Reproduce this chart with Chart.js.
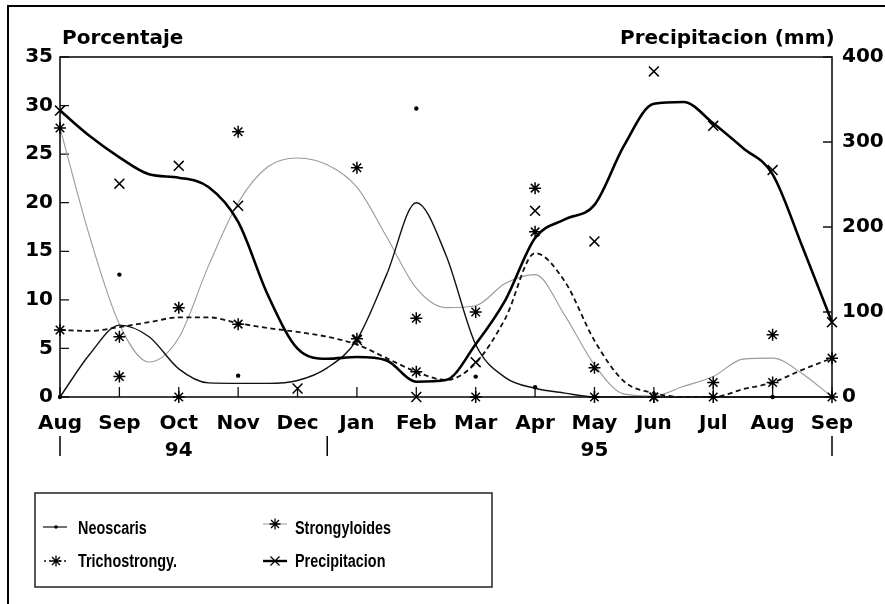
<!DOCTYPE html>
<html><head><meta charset="utf-8">
<script src="https://cdn.jsdelivr.net/npm/chart.js@4.4.1/dist/chart.umd.min.js"></script>
<style>html,body{margin:0;padding:0;background:#fff;}canvas{display:block;}</style>
</head><body>
<canvas id="c" width="885" height="604"></canvas>
<script>
// ---- data ----
const months = ['Aug','Sep','Oct','Nov','Dec','Jan','Feb','Mar','Apr','May','Jun','Jul','Aug','Sep'];
const years = [{label:'94', at:2}, {label:'95', at:9}];
const yearBreaks = [0, 4.5, 13];
const pctMax = 35, pctStep = 5;
const mmMax = 400, mmStep = 100;

// observed values, one per month (Aug 94 .. Sep 95)
const neoscarisObs = [0, 12.6, 0, 2.2, null, null, 29.7, 2.1, 1.0, 0, 0, 0, 0, 0];
const trichoObs    = [6.9, 6.2, 9.2, 7.5, null, 6.0, 2.6, 0, 17.0, 0, 0, 0, 1.5, 4.0];
const strongObs    = [27.7, 2.1, 0, 27.3, null, 23.6, 8.1, 8.75, 21.5, 3.0, 0, 1.5, 6.4, 0];
const precipObs    = [337, 251, 272, 225, 10, 67, 0, 41, 219, 183, 383, 319, 267, 88];

// fitted curves read every half month
const fitStep = 0.5;
const neoscarisFit = [0, 4.4, 7.4, 6.2, 2.9, 1.45, 1.4, 1.4, 1.7, 3.0, 5.9, 12.6, 20.0, 14.6, 5.4, 2.0, 0.9, 0.4, 0, 0, 0, 0, 0, 0, 0, 0, 0];
const strongFit    = [27.7, 16.5, 7.5, 3.6, 6.1, 13.5, 20.0, 23.7, 24.6, 23.9, 21.6, 16.5, 11.2, 9.2, 9.4, 11.7, 12.6, 8.4, 3.3, 0.3, 0.1, 1.1, 2.1, 3.9, 4.0, 2.4, 0];
const trichoFit    = [6.9, 6.8, 7.2, 7.7, 8.2, 8.2, 7.6, 7.1, 6.7, 6.2, 5.4, 4.0, 2.6, 1.75, 3.5, 8.1, 14.8, 11.9, 5.8, 1.6, 0.4, 0, 0, 0.8, 1.5, 2.8, 4.0];
const precipFit    = [337, 307, 282, 262, 258, 247, 206, 120, 57, 45, 47, 43, 18, 20, 62, 114, 187, 209, 226, 296, 345, 347, 322, 293, 262, 177, 88];

const seriesNames = ['Neoscaris', 'Trichostrongy.', 'Strongyloides', 'Precipitacion'];

// ---- helpers ----
const pts = (arr, step) => arr.map((v, i) => ({x: i * step, y: v}));
const TXT = '#000';
const FONT = 'DejaVu Sans';

function curve(data, extra) {
  return Object.assign({data, pointRadius: 0, borderColor: '#111', borderWidth: 1.3,
    cubicInterpolationMode: 'monotone', fill: false, clip: false}, extra);
}
function marks(data, style, radius, extra) {
  return Object.assign({data, showLine: false, pointStyle: style, pointRadius: radius,
    pointBorderColor: '#000', pointBackgroundColor: '#000', pointBorderWidth: 1.5, clip: false}, extra);
}

function drawMark(ctx, type, x, y) {
  ctx.save();
  ctx.strokeStyle = '#000'; ctx.fillStyle = '#000'; ctx.lineWidth = 1.3;
  ctx.beginPath();
  if (type === 'dot') { ctx.arc(x, y, 1.8, 0, Math.PI * 2); ctx.fill(); }
  else if (type === 'x') { ctx.moveTo(x-4.5,y-4.5); ctx.lineTo(x+4.5,y+4.5); ctx.moveTo(x+4.5,y-4.5); ctx.lineTo(x-4.5,y+4.5); ctx.stroke(); }
  else { ctx.moveTo(x,y-5.5); ctx.lineTo(x,y+5.5); ctx.moveTo(x-5.5,y); ctx.lineTo(x+5.5,y);
    ctx.moveTo(x-4,y-4); ctx.lineTo(x+4,y+4); ctx.moveTo(x+4,y-4); ctx.lineTo(x-4,y+4); ctx.stroke(); }
  ctx.restore();
}
function narrowText(ctx, text, x, y) {
  ctx.save(); ctx.translate(x, y); ctx.scale(0.8, 1); ctx.fillText(text, 0, 0); ctx.restore();
}

const decorPlugin = {
  id: 'decor',
  beforeDraw(chart) {
    const {ctx, width, height} = chart;
    ctx.save(); ctx.fillStyle = '#fff'; ctx.fillRect(0, 0, width, height); ctx.restore();
  },
  beforeDatasetsDraw(chart) {
    const {ctx, chartArea: a, scales} = chart;
    ctx.save();
    ctx.strokeStyle = '#111'; ctx.lineWidth = 1.6;
    ctx.strokeRect(a.left, a.top, a.right - a.left, a.bottom - a.top);
    ctx.lineWidth = 1.3; ctx.beginPath();
    scales.y.ticks.forEach(t => { const p = scales.y.getPixelForValue(t.value); ctx.moveTo(a.left, p); ctx.lineTo(a.left + 9, p); });
    scales.y1.ticks.forEach(t => { const p = scales.y1.getPixelForValue(t.value); ctx.moveTo(a.right, p); ctx.lineTo(a.right - 9, p); });
    scales.x.ticks.forEach(t => { const p = scales.x.getPixelForValue(t.value); ctx.moveTo(p, a.bottom); ctx.lineTo(p, a.bottom - 10); });
    ctx.stroke(); ctx.restore();
  },
  afterDraw(chart) {
    const {ctx, chartArea: a, scales} = chart;
    ctx.save();
    // outer frame of the figure
    ctx.strokeStyle = '#000'; ctx.lineWidth = 2;
    ctx.beginPath(); ctx.moveTo(8, 604); ctx.lineTo(8, 6); ctx.lineTo(885, 6); ctx.stroke();
    // axis titles
    ctx.fillStyle = TXT; ctx.font = 'bold 20px "' + FONT + '"'; ctx.textBaseline = 'alphabetic';
    ctx.textAlign = 'left';
    ctx.fillText('Porcentaje', a.left + 2, 44);
    ctx.fillText('Precipitacion (mm)', 620, 44);
    // years
    ctx.textAlign = 'center';
    years.forEach(yy => ctx.fillText(yy.label, scales.x.getPixelForValue(yy.at), 456));
    // year separators
    ctx.strokeStyle = '#000'; ctx.lineWidth = 1.5; ctx.beginPath();
    yearBreaks.forEach(v => { const p = scales.x.getPixelForValue(v); ctx.moveTo(p, 436); ctx.lineTo(p, 456); });
    ctx.stroke();
    // legend box
    ctx.strokeStyle = '#222'; ctx.lineWidth = 1.5;
    ctx.strokeRect(35, 493, 457, 94);
    ctx.font = 'bold 18px "Liberation Sans"'; ctx.textAlign = 'left';
    // Neoscaris
    ctx.beginPath(); ctx.lineWidth = 1.2; ctx.strokeStyle = '#111'; ctx.moveTo(43, 527); ctx.lineTo(67, 527); ctx.stroke();
    drawMark(ctx, 'dot', 56, 527);
    narrowText(ctx, seriesNames[0], 78, 534);
    // Trichostrongy.
    ctx.beginPath(); ctx.lineWidth = 1.6; ctx.setLineDash([2, 3]); ctx.moveTo(44, 561); ctx.lineTo(68, 561); ctx.stroke(); ctx.setLineDash([]);
    drawMark(ctx, 'star', 56, 561);
    narrowText(ctx, seriesNames[1], 78, 567);
    // Strongyloides
    ctx.beginPath(); ctx.lineWidth = 1; ctx.strokeStyle = '#999'; ctx.moveTo(263, 524); ctx.lineTo(287, 524); ctx.stroke();
    drawMark(ctx, 'star', 275, 524);
    narrowText(ctx, seriesNames[2], 295, 534);
    // Precipitacion
    ctx.beginPath(); ctx.lineWidth = 2.4; ctx.strokeStyle = '#000'; ctx.moveTo(263, 561); ctx.lineTo(287, 561); ctx.stroke();
    drawMark(ctx, 'x', 275, 561);
    narrowText(ctx, seriesNames[3], 295, 567);
    ctx.restore();
  }
};

const tickFont = {family: FONT, weight: 'bold', size: 20};

new Chart(document.getElementById('c'), {
  type: 'line',
  data: {
    datasets: [
      marks(pts(precipObs, 1), 'crossRot', 7, {label: seriesNames[3] + ' obs', yAxisID: 'y1'}),
      marks(pts(neoscarisObs, 1), 'circle', 2.2, {label: seriesNames[0] + ' obs', yAxisID: 'y', pointBorderWidth: 0}),
      marks(pts(strongObs, 1), 'star', 6, {label: seriesNames[2] + ' obs', yAxisID: 'y'}),
      marks(pts(trichoObs, 1), 'star', 6, {label: seriesNames[1] + ' obs', yAxisID: 'y'}),
      curve(pts(precipFit, fitStep), {label: seriesNames[3], yAxisID: 'y1', borderColor: '#000', borderWidth: 2.6}),
      curve(pts(neoscarisFit, fitStep), {label: seriesNames[0], yAxisID: 'y', borderWidth: 1.4}),
      curve(pts(trichoFit, fitStep), {label: seriesNames[1], yAxisID: 'y', borderWidth: 1.8, borderDash: [5, 3.5]}),
      curve(pts(strongFit, fitStep), {label: seriesNames[2], yAxisID: 'y', borderColor: '#9a9a9a', borderWidth: 1.1})
    ]
  },
  options: {
    responsive: false, animation: false, devicePixelRatio: 1,
    layout: {padding: {top: 57, bottom: 157, left: 0, right: 0}},
    plugins: {legend: {display: false}, tooltip: {enabled: false}},
    scales: {
      x: {
        type: 'linear', min: 0, max: months.length - 1,
        grid: {display: false, drawTicks: false}, border: {display: false},
        ticks: {stepSize: 1, autoSkip: false, maxRotation: 0, maxTicksLimit: 30, padding: 15,
          color: TXT, font: tickFont, callback: v => months[v]},
        afterFit: s => { s.height = 50; }
      },
      y: {
        position: 'left', min: 0, max: pctMax,
        grid: {display: false, drawTicks: false}, border: {display: false},
        ticks: {stepSize: pctStep, padding: 7, color: TXT, font: tickFont},
        afterFit: s => { s.width = 60; }
      },
      y1: {
        position: 'right', min: 0, max: mmMax,
        grid: {display: false, drawTicks: false}, border: {display: false},
        ticks: {stepSize: mmStep, padding: 10, color: TXT, font: tickFont},
        afterFit: s => { s.width = 53; }
      }
    }
  },
  plugins: [decorPlugin]
});
</script>
</body></html>
